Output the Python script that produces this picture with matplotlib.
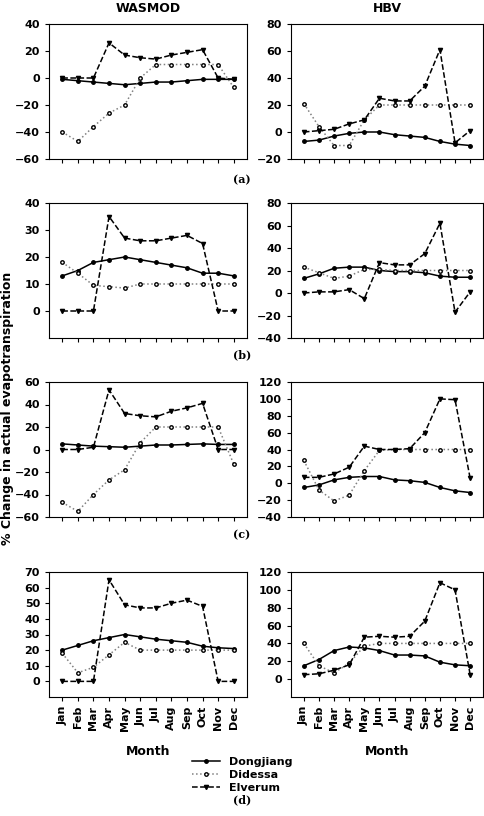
import matplotlib.pyplot as plt

months = ["Jan", "Feb", "Mar", "Apr", "May", "Jun", "Jul", "Aug", "Sep", "Oct", "Nov", "Dec"]

# (a)
a_was_dong = [-1, -2, -3, -4, -5, -4, -3, -3, -2, -1, -1, -1]
a_was_did = [-40, -47, -36, -26, -20, 0, 10, 10, 10, 10, 10, -7]
a_was_elv = [0, 0, 0, 26, 17, 15, 14, 17, 19, 21, 0, -1]
a_hbv_dong = [-7, -6, -3, -1, 0, 0, -2, -3, -4, -7, -9, -10]
a_hbv_did = [21, 4, -10, -10, 9, 20, 20, 20, 20, 20, 20, 20]
a_hbv_elv = [0, 1, 2, 6, 9, 25, 23, 23, 34, 61, -8, 1]
# (b)
b_was_dong = [13, 15, 18, 19, 20, 19, 18, 17, 16, 14, 14, 13]
b_was_did = [18, 14, 9.5, 9, 8.5, 10, 10, 10, 10, 10, 10, 10]
b_was_elv = [0, 0, 0, 35, 27, 26, 26, 27, 28, 25, 0, 0]
b_hbv_dong = [13, 17, 22, 23, 23, 20, 19, 19, 18, 15, 14, 14]
b_hbv_did = [23, 18, 13, 15, 21, 21, 20, 20, 20, 20, 20, 20]
b_hbv_elv = [0, 1, 1, 3, -5, 27, 25, 25, 35, 62, -17, 1]
# (c)
c_was_dong = [5, 4, 3, 2.5, 2, 3, 4, 4, 4.5, 5, 4.5, 4.5]
c_was_did = [-47, -55, -40, -27, -18, 6, 20, 20, 20, 20, 20, -13]
c_was_elv = [0, 0, 2, 53, 32, 30, 29, 34, 37, 41, 0, 0]
c_hbv_dong = [-5, -2, 4, 7, 8, 8, 4, 3, 1, -5, -9, -11]
c_hbv_did = [27, -8, -21, -14, 15, 39, 40, 40, 40, 40, 40, 40]
c_hbv_elv = [7, 7, 11, 19, 44, 40, 40, 41, 60, 100, 99, 6]
# (d)
d_was_dong = [20, 23, 26, 28, 30, 28.5, 27, 26, 25, 22.5, 21.5, 21]
d_was_did = [18, 5.5, 9, 17, 25, 20, 20, 20, 20, 20, 20, 20]
d_was_elv = [0, 0, 0, 65, 49, 47, 47, 50, 52, 48, 0, 0]
d_hbv_dong = [15, 22, 32, 36, 35, 32, 27, 27, 26, 19, 16, 15]
d_hbv_did = [40, 15, 7, 18, 37, 40, 40, 40, 40, 40, 40, 40]
d_hbv_elv = [5, 6, 10, 16, 47, 48, 47, 48, 65, 108, 100, 5]

# (dong, did, elv, ylim, first tick, step)
panels = [
    [(a_was_dong, a_was_did, a_was_elv, (-60, 40), -60, 20), (a_hbv_dong, a_hbv_did, a_hbv_elv, (-20, 80), -20, 20)],
    [(b_was_dong, b_was_did, b_was_elv, (-10, 40), 0, 10), (b_hbv_dong, b_hbv_did, b_hbv_elv, (-40, 80), -40, 20)],
    [(c_was_dong, c_was_did, c_was_elv, (-60, 60), -60, 20), (c_hbv_dong, c_hbv_did, c_hbv_elv, (-40, 120), -40, 20)],
    [(d_was_dong, d_was_did, d_was_elv, (-10, 70), 0, 10), (d_hbv_dong, d_hbv_did, d_hbv_elv, (-20, 120), 0, 20)],
]

W, H = 484, 816
fig = plt.figure(figsize=(4.84, 8.16), dpi=100)
plt.rcParams['font.family'] = ['DejaVu Sans']

xs = list(range(12))
lefts = [49, 291]
widths = [198, 192]
tops = [24, 203, 382, 572]
heights = [135, 135, 135, 125]
plabels = ["(a)", "(b)", "(c)", "(d)"]
plabel_y = [180, 355, 535, 800]

for r, row in enumerate(panels):
    for c, (dong, did, elv, ylim, y0, step) in enumerate(row):
        ax = fig.add_axes([lefts[c] / W, 1 - (tops[r] + heights[r]) / H, widths[c] / W, heights[r] / H])
        ax.plot(xs, dong, '-', color='black', marker='o', ms=2.5, lw=1.1, label='Dongjiang')
        ax.plot(xs, did, ':', color='gray', marker='o', ms=2.5, mfc='white', mec='black', lw=1.1, label='Didessa')
        ax.plot(xs, elv, '--', color='black', marker='v', ms=3, lw=1.1, label='Elverum')
        ax.set_xlim(-0.85, 11.85)
        ax.set_ylim(*ylim)
        ax.set_yticks(range(y0, ylim[1] + 1, step))
        ax.set_xticks(xs)
        if r == 3:
            ax.set_xticklabels(months, rotation=90, fontsize=8, fontweight='bold')
            ax.set_xlabel("Month", fontsize=9, fontweight='bold', labelpad=10)
        else:
            ax.set_xticklabels([])
        ax.tick_params(labelsize=8, length=3)
        for t in ax.get_yticklabels():
            t.set_fontweight('bold')
        if r == 0:
            ax.set_title("WASMOD" if c == 0 else "HBV", fontsize=9, fontweight='bold', pad=9)
        if r == 3 and c == 0:
            handles, labels = ax.get_legend_handles_labels()
    fig.text(0.5, 1 - plabel_y[r] / H, plabels[r], ha='center', va='center', fontsize=8,
             fontweight='bold', family='DejaVu Serif')

fig.legend(handles, labels, loc='center', bbox_to_anchor=(0.5, 1 - 775 / H), frameon=False,
           prop={'weight': 'bold', 'size': 8}, handlelength=2.5, labelspacing=0.3)
fig.text(8 / W, 0.5, "% Change in actual evapotranspiration", rotation=90, ha='center', va='center',
         fontsize=9, fontweight='bold')

fig.savefig("out.png", dpi=100, facecolor='white')
